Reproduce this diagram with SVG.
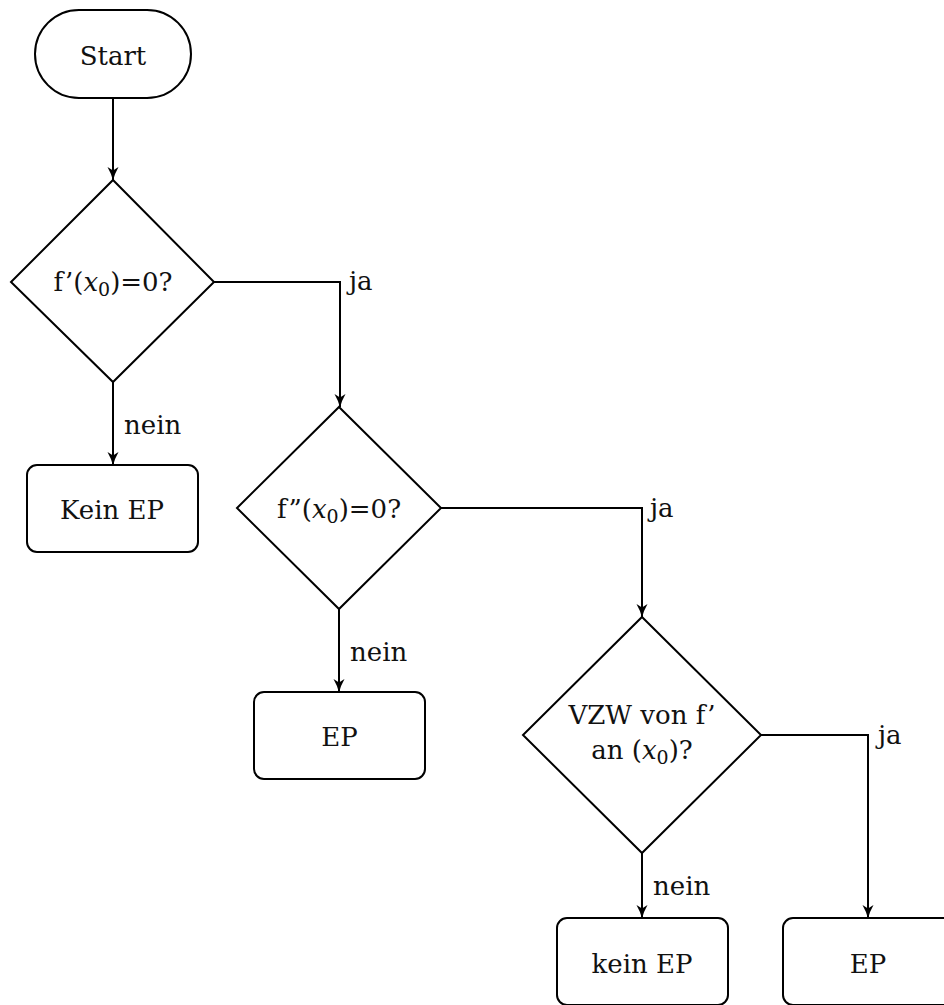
<svg xmlns="http://www.w3.org/2000/svg" width="944" height="1005" viewBox="0 0 944 1005">
<style>
.s{fill:#fff;stroke:#000;stroke-width:2}
.t{text-anchor:middle}
.c{fill:none;stroke:#000;stroke-width:2}
.i{font-style:italic}
.sub{font-size:19px}
</style>
<defs>
<marker id="ah" markerWidth="14" markerHeight="12" viewBox="0 0 14 12" refX="13" refY="6" orient="auto" markerUnits="userSpaceOnUse">
<path d="M0,0.5 Q7,4.5 13.5,6 Q7,7.5 0,11.5 L3.5,6 Z" fill="#000"/>
</marker>
</defs>
<rect width="944" height="1005" fill="#fff"/>
<g font-family="DejaVu Serif, serif" font-size="26" fill="#111">
<g id="connectors">
<path class="c" d="M113,98 V180" marker-end="url(#ah)"/>
<path class="c" d="M214,282 H340 V407" marker-end="url(#ah)"/>
<path class="c" d="M113,382 V465" marker-end="url(#ah)"/>
<path class="c" d="M441,508 H642 V617" marker-end="url(#ah)"/>
<path class="c" d="M339,609 V692" marker-end="url(#ah)"/>
<path class="c" d="M761,735 H868 V918" marker-end="url(#ah)"/>
<path class="c" d="M642,853 V918" marker-end="url(#ah)"/>
<text x="349" y="290">ja</text>
<text x="650" y="517">ja</text>
<text x="878" y="744">ja</text>
<text x="124" y="434">nein</text>
<text x="350" y="661">nein</text>
<text x="653" y="895">nein</text>
</g>
<g id="start">
<rect class="s" x="35" y="10" width="156" height="88" rx="44" ry="44"/>
<text class="t" x="113" y="65">Start</text>
</g>
<g id="d1">
<polygon class="s" points="113,180 214,282 113,382 11,282"/>
<text class="t" x="113" y="291">f’(<tspan class="i">x</tspan><tspan class="sub" dy="5">0</tspan><tspan dy="-5">)=0?</tspan></text>
</g>
<g id="keinep1">
<rect class="s" x="27" y="465" width="171" height="87" rx="10" ry="10"/>
<text class="t" x="112" y="519">Kein EP</text>
</g>
<g id="d2">
<polygon class="s" points="339,407 441,508 339,609 237,508"/>
<text class="t" x="339" y="518">f”(<tspan class="i">x</tspan><tspan class="sub" dy="5">0</tspan><tspan dy="-5">)=0?</tspan></text>
</g>
<g id="ep1">
<rect class="s" x="254" y="692" width="171" height="87" rx="10" ry="10"/>
<text class="t" x="339.5" y="746">EP</text>
</g>
<g id="d3">
<polygon class="s" points="642,617 761,735 642,853 523,735"/>
<text class="t" x="642" y="724">VZW von f’</text>
<text class="t" x="642" y="759">an (<tspan class="i">x</tspan><tspan class="sub" dy="5">0</tspan><tspan dy="-5">)?</tspan></text>
</g>
<g id="keinep2">
<rect class="s" x="557" y="918" width="171" height="87" rx="10" ry="10"/>
<text class="t" x="642" y="973">kein EP</text>
</g>
<g id="ep2">
<rect class="s" x="783" y="918" width="171" height="87" rx="10" ry="10"/>
<text class="t" x="868" y="973">EP</text>
</g>
</g>
</svg>
